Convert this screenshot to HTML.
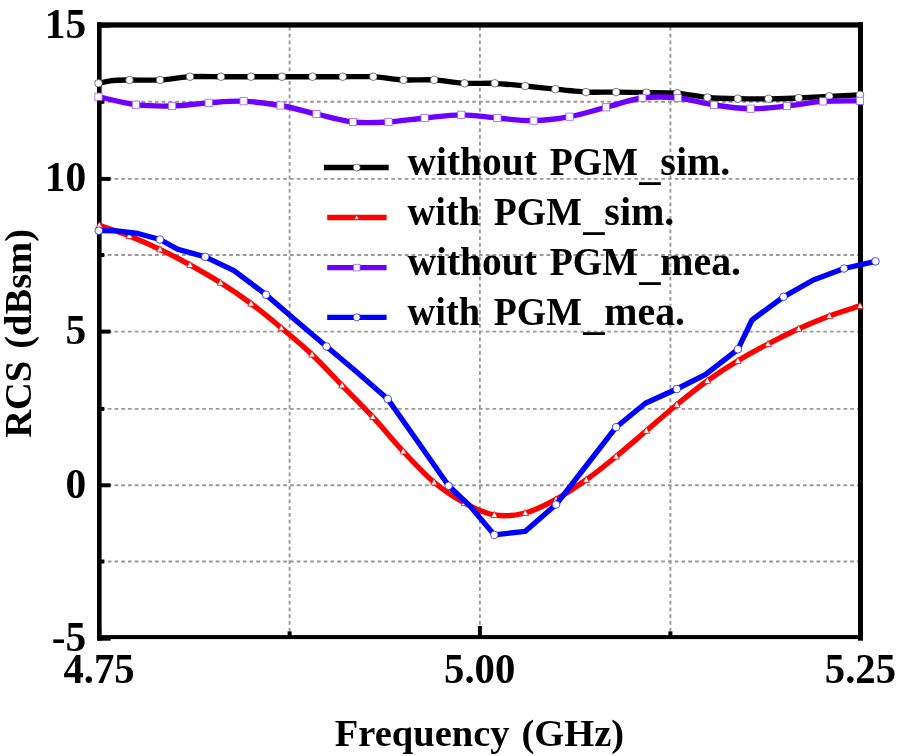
<!DOCTYPE html>
<html><head><meta charset="utf-8"><title>RCS vs Frequency</title>
<style>
html,body{margin:0;padding:0;background:#fff;}
body{width:900px;height:756px;overflow:hidden;font-family:"Liberation Serif",serif;}
svg{display:block;filter:blur(0.5px);}
text{font-family:"Liberation Serif",serif;font-weight:bold;fill:#000;}
.tk text{font-size:41.4px;}
.lg{font-size:39.5px;}
.ttl{font-size:38.5px;word-spacing:2.4px;}
</style></head><body>
<svg width="900" height="756" viewBox="0 0 900 756">
<rect width="900" height="756" fill="#fff"/>
<g stroke="#989898" stroke-width="1.9" stroke-dasharray="3.7 3.05" fill="none"><line x1="289.6" y1="27.0" x2="289.6" y2="636.0"/><line x1="479.9" y1="27.0" x2="479.9" y2="636.0"/><line x1="670.4" y1="27.0" x2="670.4" y2="636.0"/><line x1="101.0" y1="101.8" x2="859.0" y2="101.8"/><line x1="101.0" y1="178.9" x2="859.0" y2="178.9"/><line x1="101.0" y1="255.0" x2="859.0" y2="255.0"/><line x1="101.0" y1="331.6" x2="859.0" y2="331.6"/><line x1="101.0" y1="408.9" x2="859.0" y2="408.9"/><line x1="101.0" y1="485.3" x2="859.0" y2="485.3"/><line x1="101.0" y1="561.5" x2="859.0" y2="561.5"/></g>
<g stroke="#000" stroke-width="4" fill="none"><line x1="98.0" y1="25.6" x2="110.6" y2="25.6"/><line x1="98.0" y1="101.8" x2="104.3" y2="101.8"/><line x1="98.0" y1="178.9" x2="110.6" y2="178.9"/><line x1="98.0" y1="255.0" x2="104.3" y2="255.0"/><line x1="98.0" y1="331.6" x2="110.6" y2="331.6"/><line x1="98.0" y1="408.9" x2="104.3" y2="408.9"/><line x1="98.0" y1="485.3" x2="110.6" y2="485.3"/><line x1="98.0" y1="561.5" x2="104.3" y2="561.5"/><line x1="98.0" y1="638.7" x2="110.6" y2="638.7"/><line x1="99.2" y1="637.0" x2="99.2" y2="626.0"/><line x1="289.6" y1="637.0" x2="289.6" y2="631.4"/><line x1="479.9" y1="637.0" x2="479.9" y2="626.0"/><line x1="670.4" y1="637.0" x2="670.4" y2="631.4"/><line x1="860.6" y1="637.0" x2="860.6" y2="626.0"/></g>
<g fill="#000"><rect x="97" y="22.3" width="766" height="5.3"/><rect x="97" y="635.1" width="766" height="4"/><rect x="97" y="22.3" width="4.6" height="618.4"/><rect x="858" y="22.3" width="5" height="618.4"/></g>
<g fill="none" stroke-width="5.35" stroke-linejoin="round" stroke-linecap="butt">
<path d="M98.5 83.3 C99.9 83.0 108.7 81.0 112.0 80.6 C115.3 80.2 124.4 80.1 129.5 80.0 C134.6 79.9 153.5 80.4 160.0 80.0 C166.5 79.6 183.5 77.1 190.0 76.7 C196.5 76.3 214.5 76.7 221.0 76.7 C227.5 76.7 244.5 76.7 251.0 76.7 C257.5 76.7 275.4 76.7 282.0 76.7 C288.6 76.7 306.0 76.7 312.5 76.7 C319.0 76.7 336.2 76.7 342.7 76.7 C349.2 76.7 366.8 76.4 373.3 76.7 C379.8 77.0 397.0 79.6 403.5 79.9 C410.0 80.2 427.6 79.5 434.1 79.9 C440.6 80.3 458.0 82.9 464.5 83.3 C471.0 83.7 488.2 83.0 494.7 83.3 C501.2 83.6 518.7 85.4 525.2 86.0 C531.7 86.6 548.8 88.5 555.3 89.2 C561.8 89.9 579.5 91.8 586.0 92.1 C592.5 92.4 609.6 92.0 616.1 92.1 C622.6 92.2 640.0 92.6 646.5 92.7 C653.0 92.8 670.7 92.7 677.2 93.2 C683.7 93.7 700.9 96.9 707.4 97.5 C713.9 98.1 731.3 98.6 737.8 98.7 C744.3 98.8 762.0 98.9 768.5 98.8 C775.0 98.7 792.2 98.3 798.7 98.0 C805.2 97.7 822.8 96.6 829.3 96.3 C835.8 96.0 856.7 95.0 860.0 94.8" stroke="#000"/>
</g>
<g><circle cx="98.5" cy="83.3" r="3.8" fill="#fff" stroke="#444" stroke-width="0.7"/><circle cx="129.5" cy="80.0" r="3.8" fill="#fff" stroke="#444" stroke-width="0.7"/><circle cx="160.0" cy="80.0" r="3.8" fill="#fff" stroke="#444" stroke-width="0.7"/><circle cx="190.0" cy="76.7" r="3.8" fill="#fff" stroke="#444" stroke-width="0.7"/><circle cx="221.0" cy="76.7" r="3.8" fill="#fff" stroke="#444" stroke-width="0.7"/><circle cx="251.0" cy="76.7" r="3.8" fill="#fff" stroke="#444" stroke-width="0.7"/><circle cx="282.0" cy="76.7" r="3.8" fill="#fff" stroke="#444" stroke-width="0.7"/><circle cx="312.5" cy="76.7" r="3.8" fill="#fff" stroke="#444" stroke-width="0.7"/><circle cx="342.7" cy="76.7" r="3.8" fill="#fff" stroke="#444" stroke-width="0.7"/><circle cx="373.3" cy="76.7" r="3.8" fill="#fff" stroke="#444" stroke-width="0.7"/><circle cx="403.5" cy="79.9" r="3.8" fill="#fff" stroke="#444" stroke-width="0.7"/><circle cx="434.1" cy="79.9" r="3.8" fill="#fff" stroke="#444" stroke-width="0.7"/><circle cx="464.5" cy="83.3" r="3.8" fill="#fff" stroke="#444" stroke-width="0.7"/><circle cx="494.7" cy="83.3" r="3.8" fill="#fff" stroke="#444" stroke-width="0.7"/><circle cx="525.2" cy="86.0" r="3.8" fill="#fff" stroke="#444" stroke-width="0.7"/><circle cx="555.3" cy="89.2" r="3.8" fill="#fff" stroke="#444" stroke-width="0.7"/><circle cx="586.0" cy="92.1" r="3.8" fill="#fff" stroke="#444" stroke-width="0.7"/><circle cx="616.1" cy="92.1" r="3.8" fill="#fff" stroke="#444" stroke-width="0.7"/><circle cx="646.5" cy="92.7" r="3.8" fill="#fff" stroke="#444" stroke-width="0.7"/><circle cx="677.2" cy="93.2" r="3.8" fill="#fff" stroke="#444" stroke-width="0.7"/><circle cx="707.4" cy="97.5" r="3.8" fill="#fff" stroke="#444" stroke-width="0.7"/><circle cx="737.8" cy="98.7" r="3.8" fill="#fff" stroke="#444" stroke-width="0.7"/><circle cx="768.5" cy="98.8" r="3.8" fill="#fff" stroke="#444" stroke-width="0.7"/><circle cx="798.7" cy="98.0" r="3.8" fill="#fff" stroke="#444" stroke-width="0.7"/><circle cx="829.3" cy="96.3" r="3.8" fill="#fff" stroke="#444" stroke-width="0.7"/><circle cx="860.0" cy="94.8" r="3.8" fill="#fff" stroke="#444" stroke-width="0.7"/></g>
<g fill="none" stroke-width="5.35" stroke-linejoin="round"><path d="M99.3 225.3 C104.3 227.1 119.3 232.0 129.4 236.0 C139.5 240.0 149.8 244.5 159.9 249.3 C170.0 254.1 179.9 259.2 190.0 264.8 C200.1 270.4 210.4 276.2 220.6 282.7 C230.8 289.1 240.9 295.9 251.0 303.5 C261.1 311.1 271.2 319.5 281.4 328.0 C291.6 336.5 301.9 344.9 312.0 354.5 C322.1 364.1 331.9 374.9 342.0 385.3 C352.1 395.7 362.6 405.9 372.8 416.9 C383.0 427.9 393.0 440.4 403.2 451.3 C413.4 462.2 423.9 473.7 434.1 482.3 C444.3 490.9 454.5 497.6 464.5 503.0 C474.5 508.4 484.2 513.2 494.3 514.9 C504.4 516.6 514.9 515.6 525.2 513.0 C535.5 510.4 545.8 504.9 556.0 499.4 C566.2 493.9 576.2 486.9 586.2 479.8 C596.2 472.7 606.1 464.7 616.1 456.5 C626.1 448.3 636.3 439.3 646.4 430.7 C656.5 422.1 666.6 413.0 676.8 404.7 C687.0 396.4 697.2 388.1 707.4 380.8 C717.6 373.5 727.8 366.9 737.9 360.8 C748.0 354.7 757.9 349.3 768.0 344.0 C778.1 338.7 788.5 333.5 798.7 328.8 C808.9 324.1 819.1 319.8 829.3 316.0 C839.5 312.2 854.9 307.6 860.0 305.9" stroke="#ff0000"/></g>
<g><path d="M99.3 221.8 L102.6 227.9 L96.0 227.9 Z" fill="#fff" stroke="#ff0000" stroke-width="0.8"/><path d="M129.4 232.5 L132.7 238.6 L126.1 238.6 Z" fill="#fff" stroke="#ff0000" stroke-width="0.8"/><path d="M159.9 245.8 L163.2 251.9 L156.6 251.9 Z" fill="#fff" stroke="#ff0000" stroke-width="0.8"/><path d="M190.0 261.3 L193.3 267.4 L186.7 267.4 Z" fill="#fff" stroke="#ff0000" stroke-width="0.8"/><path d="M220.6 279.2 L223.9 285.3 L217.3 285.3 Z" fill="#fff" stroke="#ff0000" stroke-width="0.8"/><path d="M251.0 300.0 L254.3 306.1 L247.7 306.1 Z" fill="#fff" stroke="#ff0000" stroke-width="0.8"/><path d="M281.4 324.5 L284.7 330.6 L278.1 330.6 Z" fill="#fff" stroke="#ff0000" stroke-width="0.8"/><path d="M312.0 351.0 L315.3 357.1 L308.7 357.1 Z" fill="#fff" stroke="#ff0000" stroke-width="0.8"/><path d="M342.0 381.8 L345.3 387.9 L338.7 387.9 Z" fill="#fff" stroke="#ff0000" stroke-width="0.8"/><path d="M372.8 413.4 L376.1 419.5 L369.5 419.5 Z" fill="#fff" stroke="#ff0000" stroke-width="0.8"/><path d="M403.2 447.8 L406.5 453.9 L399.9 453.9 Z" fill="#fff" stroke="#ff0000" stroke-width="0.8"/><path d="M434.1 478.8 L437.4 484.9 L430.8 484.9 Z" fill="#fff" stroke="#ff0000" stroke-width="0.8"/><path d="M464.5 499.5 L467.8 505.6 L461.2 505.6 Z" fill="#fff" stroke="#ff0000" stroke-width="0.8"/><path d="M494.3 511.4 L497.6 517.5 L491.0 517.5 Z" fill="#fff" stroke="#ff0000" stroke-width="0.8"/><path d="M525.2 509.5 L528.5 515.6 L521.9 515.6 Z" fill="#fff" stroke="#ff0000" stroke-width="0.8"/><path d="M556.0 495.9 L559.3 502.0 L552.7 502.0 Z" fill="#fff" stroke="#ff0000" stroke-width="0.8"/><path d="M586.2 476.3 L589.5 482.4 L582.9 482.4 Z" fill="#fff" stroke="#ff0000" stroke-width="0.8"/><path d="M616.1 453.0 L619.4 459.1 L612.8 459.1 Z" fill="#fff" stroke="#ff0000" stroke-width="0.8"/><path d="M646.4 427.2 L649.7 433.3 L643.1 433.3 Z" fill="#fff" stroke="#ff0000" stroke-width="0.8"/><path d="M676.8 401.2 L680.1 407.3 L673.5 407.3 Z" fill="#fff" stroke="#ff0000" stroke-width="0.8"/><path d="M707.4 377.3 L710.7 383.4 L704.1 383.4 Z" fill="#fff" stroke="#ff0000" stroke-width="0.8"/><path d="M737.9 357.3 L741.2 363.4 L734.6 363.4 Z" fill="#fff" stroke="#ff0000" stroke-width="0.8"/><path d="M768.0 340.5 L771.3 346.6 L764.7 346.6 Z" fill="#fff" stroke="#ff0000" stroke-width="0.8"/><path d="M798.7 325.3 L802.0 331.4 L795.4 331.4 Z" fill="#fff" stroke="#ff0000" stroke-width="0.8"/><path d="M829.3 312.5 L832.6 318.6 L826.0 318.6 Z" fill="#fff" stroke="#ff0000" stroke-width="0.8"/><path d="M860.0 302.4 L863.3 308.5 L856.7 308.5 Z" fill="#fff" stroke="#ff0000" stroke-width="0.8"/></g>
<g fill="none" stroke-width="5.35" stroke-linejoin="round"><path d="M98.5 96.7 C104.7 98.0 123.6 103.2 135.9 104.7 C148.2 106.2 160.0 106.3 172.1 106.0 C184.2 105.7 196.8 103.6 208.7 102.8 C220.6 102.0 231.6 100.8 243.6 101.2 C255.6 101.7 268.4 103.4 280.5 105.5 C292.6 107.6 304.4 111.2 316.5 114.0 C328.6 116.8 341.0 120.7 353.0 122.0 C365.0 123.3 376.6 122.7 388.5 122.0 C400.4 121.3 412.5 119.2 424.6 118.0 C436.7 116.8 449.2 114.8 461.3 114.8 C473.4 114.8 485.3 117.0 497.4 118.0 C509.4 119.0 521.6 120.9 533.6 120.7 C545.6 120.5 557.5 118.9 569.6 116.7 C581.7 114.5 593.9 110.4 606.0 107.3 C618.1 104.2 630.3 99.5 642.3 98.0 C654.3 96.5 665.8 96.8 677.8 98.0 C689.8 99.2 701.9 103.2 714.0 105.0 C726.1 106.8 738.4 108.5 750.6 108.7 C762.8 108.9 774.9 107.2 787.0 106.0 C799.1 104.8 811.0 102.3 823.2 101.4 C835.4 100.5 853.9 100.9 860.0 100.8" stroke="#6e00ff"/></g>
<g><rect x="94.9" y="93.1" width="7.2" height="7.2" fill="#fff" stroke="#a060ff" stroke-width="0.8"/><rect x="132.3" y="101.1" width="7.2" height="7.2" fill="#fff" stroke="#a060ff" stroke-width="0.8"/><rect x="168.5" y="102.4" width="7.2" height="7.2" fill="#fff" stroke="#a060ff" stroke-width="0.8"/><rect x="205.1" y="99.2" width="7.2" height="7.2" fill="#fff" stroke="#a060ff" stroke-width="0.8"/><rect x="240.0" y="97.6" width="7.2" height="7.2" fill="#fff" stroke="#a060ff" stroke-width="0.8"/><rect x="276.9" y="101.9" width="7.2" height="7.2" fill="#fff" stroke="#a060ff" stroke-width="0.8"/><rect x="312.9" y="110.4" width="7.2" height="7.2" fill="#fff" stroke="#a060ff" stroke-width="0.8"/><rect x="349.4" y="118.4" width="7.2" height="7.2" fill="#fff" stroke="#a060ff" stroke-width="0.8"/><rect x="384.9" y="118.4" width="7.2" height="7.2" fill="#fff" stroke="#a060ff" stroke-width="0.8"/><rect x="421.0" y="114.4" width="7.2" height="7.2" fill="#fff" stroke="#a060ff" stroke-width="0.8"/><rect x="457.7" y="111.2" width="7.2" height="7.2" fill="#fff" stroke="#a060ff" stroke-width="0.8"/><rect x="493.8" y="114.4" width="7.2" height="7.2" fill="#fff" stroke="#a060ff" stroke-width="0.8"/><rect x="530.0" y="117.1" width="7.2" height="7.2" fill="#fff" stroke="#a060ff" stroke-width="0.8"/><rect x="566.0" y="113.1" width="7.2" height="7.2" fill="#fff" stroke="#a060ff" stroke-width="0.8"/><rect x="602.4" y="103.7" width="7.2" height="7.2" fill="#fff" stroke="#a060ff" stroke-width="0.8"/><rect x="638.7" y="94.4" width="7.2" height="7.2" fill="#fff" stroke="#a060ff" stroke-width="0.8"/><rect x="674.2" y="94.4" width="7.2" height="7.2" fill="#fff" stroke="#a060ff" stroke-width="0.8"/><rect x="710.4" y="101.4" width="7.2" height="7.2" fill="#fff" stroke="#a060ff" stroke-width="0.8"/><rect x="747.0" y="105.1" width="7.2" height="7.2" fill="#fff" stroke="#a060ff" stroke-width="0.8"/><rect x="783.4" y="102.4" width="7.2" height="7.2" fill="#fff" stroke="#a060ff" stroke-width="0.8"/><rect x="819.6" y="97.8" width="7.2" height="7.2" fill="#fff" stroke="#a060ff" stroke-width="0.8"/><rect x="856.4" y="97.2" width="7.2" height="7.2" fill="#fff" stroke="#a060ff" stroke-width="0.8"/></g>
<g fill="none" stroke-width="5.35" stroke-linejoin="round"><path d="M98.8 230.7 L116.7 230.9 L138.0 233.5 L159.9 239.5 L178.0 249.3 L205.2 256.8 L234.0 270.7 L266.0 294.7 L295.3 320.0 L326.5 346.5 L355.0 370.5 L387.7 399.0 L418.0 442.0 L448.6 485.7 L470.0 506.0 L494.3 534.9 L525.0 531.4 L556.0 504.6 L586.0 466.0 L616.1 427.2 L645.4 403.2 L676.8 389.0 L705.3 374.7 L737.9 349.3 L752.0 320.0 L783.5 296.8 L813.3 280.0 L844.0 268.5 L875.5 261.3" stroke="#0000ff"/></g>
<g><circle cx="98.8" cy="230.7" r="3.8" fill="#fff" stroke="#0000ff" stroke-width="0.7"/><circle cx="159.9" cy="239.5" r="3.8" fill="#fff" stroke="#0000ff" stroke-width="0.7"/><circle cx="205.2" cy="256.8" r="3.8" fill="#fff" stroke="#0000ff" stroke-width="0.7"/><circle cx="266.0" cy="294.7" r="3.8" fill="#fff" stroke="#0000ff" stroke-width="0.7"/><circle cx="326.5" cy="346.5" r="3.8" fill="#fff" stroke="#0000ff" stroke-width="0.7"/><circle cx="387.7" cy="399.0" r="3.8" fill="#fff" stroke="#0000ff" stroke-width="0.7"/><circle cx="448.6" cy="485.7" r="3.8" fill="#fff" stroke="#0000ff" stroke-width="0.7"/><circle cx="494.3" cy="534.9" r="3.8" fill="#fff" stroke="#0000ff" stroke-width="0.7"/><circle cx="556.0" cy="504.6" r="3.8" fill="#fff" stroke="#0000ff" stroke-width="0.7"/><circle cx="616.1" cy="427.2" r="3.8" fill="#fff" stroke="#0000ff" stroke-width="0.7"/><circle cx="676.8" cy="389.0" r="3.8" fill="#fff" stroke="#0000ff" stroke-width="0.7"/><circle cx="737.9" cy="349.3" r="3.8" fill="#fff" stroke="#0000ff" stroke-width="0.7"/><circle cx="783.5" cy="296.8" r="3.8" fill="#fff" stroke="#0000ff" stroke-width="0.7"/><circle cx="844.0" cy="268.5" r="3.8" fill="#fff" stroke="#0000ff" stroke-width="0.7"/><circle cx="875.5" cy="261.3" r="3.8" fill="#fff" stroke="#0000ff" stroke-width="0.7"/></g>
<g class="tk"><text x="86.2" y="37.8" text-anchor="end">15</text><text x="86.2" y="191.1" text-anchor="end">10</text><text x="86.2" y="343.8" text-anchor="end">5</text><text x="86.2" y="497.5" text-anchor="end">0</text><text x="86.2" y="650.9" text-anchor="end">-5</text><text transform="translate(99.0 683.1) scale(1 1.045)" text-anchor="middle" style="font-size:40.7px">4.75</text><text transform="translate(479.7 683.1) scale(1 1.045)" text-anchor="middle" style="font-size:40.7px">5.00</text><text transform="translate(860.4 683.1) scale(1 1.045)" text-anchor="middle" style="font-size:40.7px">5.25</text></g>
<g><line x1="323.9" y1="167.5" x2="388.7" y2="167.5" stroke="#000" stroke-width="5.35"/><line x1="327.2" y1="217.5" x2="386.6" y2="217.5" stroke="#ff0000" stroke-width="5.35"/><line x1="327.2" y1="267.6" x2="386.6" y2="267.6" stroke="#6e00ff" stroke-width="5.35"/><line x1="327.2" y1="317.3" x2="386.6" y2="317.3" stroke="#0000ff" stroke-width="5.35"/><circle cx="356.7" cy="167.5" r="3.5" fill="#fff" stroke="#444" stroke-width="0.7"/><path d="M356.7 214.9 L359.2 219.4 L354.2 219.4 Z" fill="#fff" stroke="#ff0000" stroke-width="0.8"/><rect x="353.4" y="264.3" width="6.6" height="6.6" fill="#fff" stroke="#a060ff" stroke-width="0.8"/><circle cx="356.7" cy="317.3" r="3.5" fill="#fff" stroke="#0000ff" stroke-width="0.7"/><text class="lg" transform="translate(407.50 175.00) scale(0.9987 1)">without</text><text class="lg" transform="translate(549.75 175.00) scale(0.9570 1)">PGM</text><text class="lg" transform="translate(639.30 178.80) scale(1.0785 1)">_</text><text class="lg" transform="translate(660.30 175.00) scale(1.0142 1)">sim.</text><text class="lg" transform="translate(407.50 225.00) scale(0.9722 1)">with</text><text class="lg" transform="translate(493.75 225.00) scale(0.9570 1)">PGM</text><text class="lg" transform="translate(583.30 228.80) scale(1.0785 1)">_</text><text class="lg" transform="translate(604.30 225.00) scale(1.0142 1)">sim.</text><text class="lg" transform="translate(407.50 275.00) scale(0.9987 1)">without</text><text class="lg" transform="translate(549.75 275.00) scale(0.9570 1)">PGM</text><text class="lg" transform="translate(639.30 278.80) scale(1.0785 1)">_</text><text class="lg" transform="translate(660.30 275.00) scale(1.0088 1)">mea.</text><text class="lg" transform="translate(407.50 324.80) scale(0.9722 1)">with</text><text class="lg" transform="translate(493.75 324.80) scale(0.9570 1)">PGM</text><text class="lg" transform="translate(583.30 328.60) scale(1.0785 1)">_</text><text class="lg" transform="translate(604.30 324.80) scale(1.0088 1)">mea.</text></g>
<text class="ttl" x="479.5" y="746" text-anchor="middle">Frequency (GHz)</text>
<text class="ttl" transform="translate(30.5 333.4) rotate(-90)" text-anchor="middle">RCS (dBsm)</text>
</svg>
</body></html>
